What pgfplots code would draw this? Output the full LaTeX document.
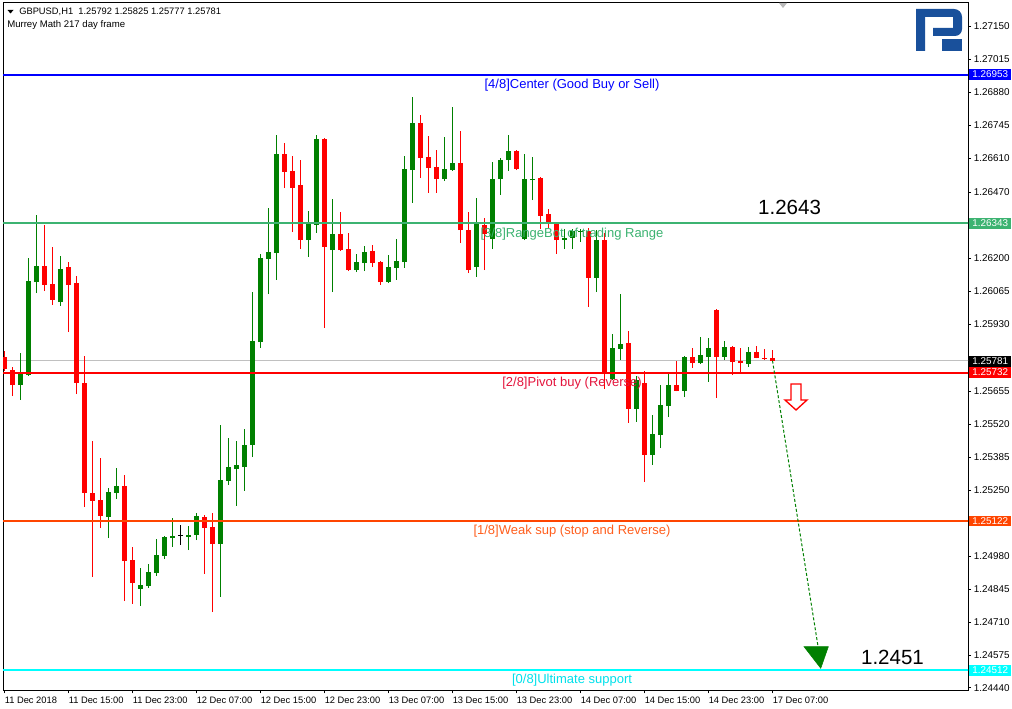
\documentclass[border=0pt]{standalone}
\usepackage{pgfplots}
\pgfplotsset{compat=1.18}
\usepackage{pgfplotstable}
\usepackage{fontspec}
\setmainfont{Liberation Sans}
\definecolor{cgreen}{RGB}{0,128,0}
\definecolor{cred}{RGB}{255,0,0}
\definecolor{mmblue}{RGB}{0,0,255}
\definecolor{mmgreen}{RGB}{60,179,113}
\definecolor{mmred}{RGB}{255,0,0}
\definecolor{mmorange}{RGB}{255,69,0}
\definecolor{mmcyan}{RGB}{0,255,255}
\definecolor{txtred}{RGB}{228,20,60}
\definecolor{txtorange}{RGB}{255,95,30}
\definecolor{txtcyan}{RGB}{0,225,235}
\definecolor{logoblue}{RGB}{25,80,155}
\definecolor{bidgray}{RGB}{192,192,192}

% x = bar index (H1), o h l c = price
\pgfplotstableread{
x o h l c
2 1.25681 1.25812 1.25620 1.25730
3 1.25722 1.26202 1.25720 1.26107
4 1.26103 1.26378 1.26058 1.26169
7 1.26021 1.26210 1.26005 1.26157
13 1.25141 1.25259 1.25054 1.25243
14 1.25239 1.25341 1.25214 1.25268
17 1.24846 1.24932 1.24776 1.24862
18 1.24858 1.24948 1.24850 1.24915
19 1.24911 1.25050 1.24899 1.24985
20 1.24981 1.25063 1.24968 1.25059
21 1.25054 1.25136 1.25018 1.25063
23 1.25059 1.25104 1.25005 1.25067
24 1.25067 1.25157 1.25046 1.25145
27 1.25030 1.25517 1.24813 1.25292
28 1.25288 1.25464 1.25272 1.25345
29 1.25337 1.25452 1.25186 1.25354
30 1.25345 1.25501 1.25247 1.25436
31 1.25436 1.26062 1.25386 1.25862
32 1.25857 1.26218 1.25833 1.26202
33 1.26198 1.26406 1.26054 1.26226
34 1.26222 1.26706 1.26112 1.26628
38 1.26275 1.26394 1.26206 1.26341
39 1.26337 1.26706 1.26304 1.26689
41 1.26234 1.26443 1.26062 1.26300
44 1.26152 1.26218 1.26144 1.26185
45 1.26181 1.26251 1.26148 1.26226
48 1.26103 1.26214 1.26099 1.26165
49 1.26161 1.26279 1.26112 1.26189
50 1.26185 1.26620 1.26161 1.26566
51 1.26562 1.26861 1.26427 1.26755
55 1.26525 1.26697 1.26517 1.26566
56 1.26562 1.26820 1.26560 1.26591
59 1.26165 1.26447 1.26124 1.26345
61 1.26279 1.26595 1.26238 1.26525
62 1.26525 1.26611 1.26460 1.26603
63 1.26603 1.26706 1.26558 1.26640
65 1.26279 1.26628 1.26275 1.26525
66 1.26521 1.26615 1.26439 1.26525
70 1.26275 1.26320 1.26238 1.26284
71 1.26284 1.26320 1.26238 1.26312
72 1.26308 1.26320 1.26267 1.26312
74 1.26120 1.26316 1.26062 1.26275
76 1.25706 1.25890 1.25702 1.25833
77 1.25829 1.26054 1.25784 1.25849
79 1.25583 1.25718 1.25530 1.25702
81 1.25395 1.25558 1.25354 1.25481
82 1.25476 1.25681 1.25423 1.25599
83 1.25595 1.25730 1.25550 1.25681
85 1.25657 1.25800 1.25632 1.25796
87 1.25771 1.25878 1.25769 1.25804
88 1.25796 1.25874 1.25694 1.25833
90 1.25796 1.25862 1.25784 1.25837
93 1.25767 1.25837 1.25755 1.25817
}\upc

\pgfplotstableread{
x o h l c
0 1.25796 1.25821 1.25739 1.25747
1 1.25743 1.25755 1.25636 1.25681
5 1.26169 1.26337 1.26066 1.26091
6 1.26095 1.26247 1.26009 1.26030
8 1.26165 1.26185 1.25898 1.26091
9 1.26099 1.26128 1.25644 1.25690
10 1.25690 1.25800 1.25181 1.25239
11 1.25239 1.25452 1.24895 1.25206
12 1.25210 1.25382 1.25095 1.25145
15 1.25268 1.25313 1.24796 1.24960
16 1.24964 1.25018 1.24784 1.24870
25 1.25141 1.25147 1.24907 1.25095
26 1.25100 1.25157 1.24751 1.25030
35 1.26628 1.26673 1.26488 1.26554
36 1.26558 1.26620 1.26308 1.26488
37 1.26501 1.26603 1.26238 1.26275
40 1.26689 1.26692 1.25915 1.26247
42 1.26300 1.26390 1.26230 1.26234
43 1.26238 1.26304 1.26148 1.26152
46 1.26230 1.26255 1.26165 1.26181
47 1.26185 1.26189 1.26091 1.26103
52 1.26755 1.26787 1.26529 1.26611
53 1.26615 1.26701 1.26468 1.26570
54 1.26574 1.26644 1.26468 1.26525
57 1.26591 1.26722 1.26263 1.26316
58 1.26316 1.26390 1.26140 1.26152
60 1.26337 1.26365 1.26152 1.26300
64 1.26640 1.26644 1.26562 1.26566
67 1.26529 1.26533 1.26320 1.26374
68 1.26382 1.26402 1.26325 1.26341
69 1.26341 1.26345 1.26218 1.26275
73 1.26312 1.26325 1.26001 1.26120
75 1.26275 1.26304 1.25665 1.25726
78 1.25853 1.25903 1.25526 1.25583
80 1.25690 1.25739 1.25284 1.25395
84 1.25681 1.25780 1.25655 1.25657
86 1.25796 1.25833 1.25751 1.25771
89 1.25989 1.25993 1.25628 1.25796
91 1.25837 1.25841 1.25722 1.25776
92 1.25780 1.25833 1.25735 1.25771
94 1.25817 1.25841 1.25790 1.25792
95 1.25792 1.25829 1.25784 1.25788
96 1.25792 1.25825 1.25777 1.25781
}\dnc

\pgfplotstableread{
x o h l c
22 1.25063 1.25108 1.25026 1.25063
}\dojic

\pgfplotsset{
  wick/.style={draw=none, no markers, forget plot,
    error bars/.cd, y dir=plus, y explicit, error mark=none,
    error bar style={line width=0.75pt, draw=#1}},
  body/.style={draw=none, no markers, forget plot,
    error bars/.cd, y dir=plus, y explicit, error mark=none,
    error bar style={line width=3.75pt, draw=#1}},
}

\begin{document}
\begin{tikzpicture}
\fill[white] (0,0) rectangle (759pt,531.75pt);
\path[use as bounding box] (0,0) rectangle (759pt,531.75pt);
\begin{axis}[
  at={(2.25pt,13.875pt)}, anchor=south west,
  scale only axis, width=723.75pt, height=516pt,
  xmin=-0.1875, xmax=120.4375,
  ymin=1.244296, ymax=1.272484,
  axis line style={line width=0.75pt, black},
  tick align=outside, major tick length=2.25pt,
  tick style={black, line width=0.75pt},
  xtick pos=left, ytick pos=right, yticklabel pos=right,
  xtick={0,8,16,24,32,40,48,56,64,72,80,88,96},
  xticklabels={11 Dec 2018, 11 Dec 15:00, 11 Dec 23:00, 12 Dec 07:00, 12 Dec 15:00, 12 Dec 23:00, 13 Dec 07:00, 13 Dec 15:00, 13 Dec 23:00, 14 Dec 07:00, 14 Dec 15:00, 14 Dec 23:00, 17 Dec 07:00},
  ytick={1.24440,1.24575,1.24710,1.24845,1.24980,1.25250,1.25385,1.25520,1.25655,1.25930,1.26065,1.26200,1.26470,1.26610,1.26745,1.26880,1.27015,1.27150},
  yticklabels={1.24440,1.24575,1.24710,1.24845,1.24980,1.25250,1.25385,1.25520,1.25655,1.25930,1.26065,1.26200,1.26470,1.26610,1.26745,1.26880,1.27015,1.27150},
  xticklabel style={anchor=north west, inner sep=0pt, font=\fontsize{7}{8}\selectfont, yshift=-2.25pt},
  yticklabel style={anchor=west, inner sep=0pt, font=\fontsize{7.4}{8}\selectfont, xshift=2pt},
  clip mode=individual,
]
% bid line
\addplot[bidgray, line width=0.75pt, forget plot] coordinates {(-1,1.25781) (121,1.25781)};
% candles
\addplot[wick=cgreen] table[x=x, y=l, y error plus expr=\thisrow{h}-\thisrow{l}] {\upc};
\addplot[wick=cred] table[x=x, y=l, y error plus expr=\thisrow{h}-\thisrow{l}] {\dnc};
\addplot[wick=black] table[x=x, y=l, y error plus expr=\thisrow{h}-\thisrow{l}] {\dojic};
\addplot[body=cgreen] table[x=x, y=o, y error plus expr=\thisrow{c}-\thisrow{o}] {\upc};
\addplot[body=cred] table[x=x, y=c, y error plus expr=\thisrow{o}-\thisrow{c}] {\dnc};
\addplot[only marks, mark=-, mark size=1.9pt, black, mark options={line width=0.75pt}, forget plot] table[x=x, y=o] {\dojic};
% Murrey Math levels
\addplot[mmblue, line width=1.5pt, forget plot] coordinates {(-1,1.26953) (121,1.26953)};
\addplot[mmgreen, line width=1.5pt, forget plot] coordinates {(-1,1.26343) (121,1.26343)};
\addplot[mmred, line width=1.5pt, forget plot] coordinates {(-1,1.25732) (121,1.25732)};
\addplot[mmorange, line width=1.5pt, forget plot] coordinates {(-1,1.25122) (121,1.25122)};
\addplot[mmcyan, line width=1.5pt, forget plot] coordinates {(-1,1.24512) (121,1.24512)};
% forecast
\addplot[cgreen, line width=0.75pt, dash pattern=on 2.25pt off 1.5pt, forget plot] coordinates {(96,1.25781) (101.7,1.24608)};
\addplot[fill=cgreen, draw=cgreen, line width=0.4pt, forget plot] coordinates {(99.94,1.246091) (102.98,1.246091) (102.03,1.245206)} --cycle;
\addplot[fill=white, draw=red, line width=1pt, forget plot] coordinates {(98.31,1.256854) (99.56,1.256854) (99.56,1.256198) (100.31,1.256198) (98.94,1.255788) (97.56,1.256198) (98.31,1.256198)} --cycle;
% level labels
\node[text=mmblue, font=\fontsize{9.75}{11}\selectfont, inner sep=0pt] at (axis cs:70.94,1.269105) {[4/8]Center (Good Buy or Sell)};
\node[text=mmgreen, font=\fontsize{9.75}{11}\selectfont, inner sep=0pt] at (axis cs:70.94,1.263000) {[3/8]RangeBot of trading Range};
\node[text=txtred, font=\fontsize{9.75}{11}\selectfont, inner sep=0pt] at (axis cs:70.94,1.256895) {[2/8]Pivot buy (Reverse)};
\node[text=txtorange, font=\fontsize{9.75}{11}\selectfont, inner sep=0pt] at (axis cs:70.94,1.250832) {[1/8]Weak sup (stop and Reverse)};
\node[text=txtcyan, font=\fontsize{9.75}{11}\selectfont, inner sep=0pt] at (axis cs:70.94,1.244727) {[0/8]Ultimate support};
\node[font=\fontsize{15.4}{18}\selectfont, inner sep=0pt] at (axis cs:98.13,1.264104) {1.2643};
\node[font=\fontsize{15.4}{18}\selectfont, inner sep=0pt] at (axis cs:111.0,1.245670) {1.2451};
\end{axis}
% decorations in pixel coordinates (origin top-left)
\begin{scope}[x=0.75pt, y=-0.75pt, shift={(0pt,531.75pt)}]
  \tikzset{pbox/.style={anchor=west, inner sep=0pt, minimum width=31.5pt, minimum height=7.9pt, text=white, font=\fontsize{7.4}{8}\selectfont}}
  \node[pbox, fill=mmblue] at (969,74.5) {1.26953};
  \node[pbox, fill=mmgreen] at (969,223.5) {1.26343};
  \node[pbox, fill=black] at (969,361.5) {1.25781};
  \node[pbox, fill=mmred] at (969,372.5) {1.25732};
  \node[pbox, fill=mmorange] at (969,521) {1.25122};
  \node[pbox, fill=mmcyan] at (969,670.5) {1.24512};
  \fill[black] (7.5,10) -- (13.5,10) -- (10.5,13.5) -- cycle;
  \node[anchor=west, inner sep=0pt, font=\fontsize{7}{8}\selectfont] at (19,12) {GBPUSD,H1\ \ 1.25792 1.25825 1.25777 1.25781};
  \node[anchor=west, inner sep=0pt, font=\fontsize{7.2}{8}\selectfont] at (7,25) {Murrey Math 217 day frame};
  \fill[gray!55] (779,3) -- (787,3) -- (783,8) -- cycle;
  \fill[logoblue] (916,9) -- (954,9) arc[start angle=90, end angle=0, radius=6pt] -- (962,29) arc[start angle=0, end angle=-90, radius=5.25pt] -- (933,36) -- (933,28) -- (953,28) -- (953,17) -- (925,17) -- (925,51) -- (916,51) -- cycle;
  \fill[logoblue] (942,39) rectangle (962,51);
\end{scope}
\end{tikzpicture}
\end{document}
